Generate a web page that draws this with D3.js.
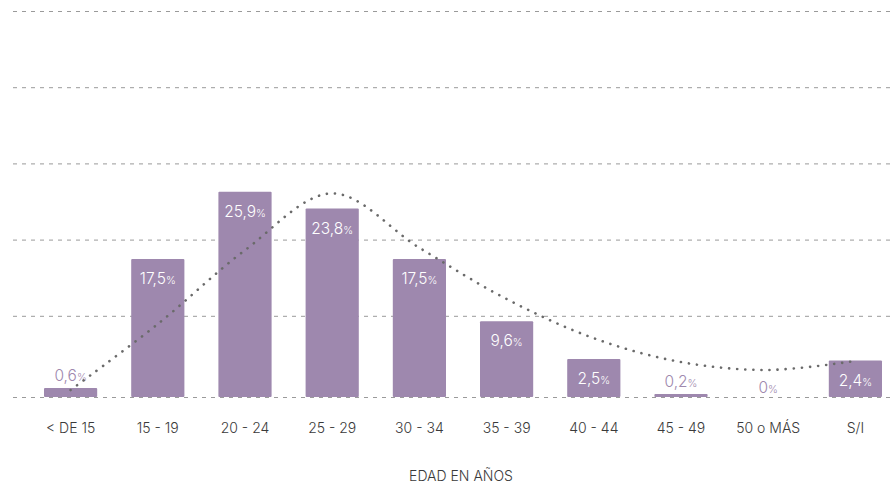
<!DOCTYPE html>
<html>
<head>
<meta charset="utf-8">
<script src="https://cdn.jsdelivr.net/npm/d3@7"></script>
<style>
  body { margin: 0; background: #fff; }
  svg { display: block; font-family: Inter, "Open Sans", sans-serif; }
</style>
</head>
<body>
<svg id="chart" width="894" height="483"></svg>
<script>
// age groups and share of cases (%)
const categories = ["< DE 15", "15 - 19", "20 - 24", "25 - 29", "30 - 34", "35 - 39", "40 - 44", "45 - 49", "50 o MÁS", "S/I"];
const values = [0.6, 17.5, 25.9, 23.8, 17.5, 9.6, 2.5, 0.2, 0, 2.4];
const labels = ["0,6", "17,5", "25,9", "23,8", "17,5", "9,6", "2,5", "0,2", "0", "2,4"];
// dotted trend curve at each group
const trend = [0.46, 9.06, 18.6, 25.7, 18.9, 12.5, 6.4, 2.3, 1.78, 2.37];
const axisTitle = "EDAD EN AÑOS";

const svg = d3.select("#chart");
const barColor = "#9e88ae";
const base = 397;

const x = d3.scaleBand().domain(categories).range([27, 899]).paddingInner(0.39).paddingOuter(0.195);
// stretched scale, small values are drawn taller in the original
const y = d3.scaleLinear().domain([0, 2.5, 10, 30]).range([base, 359, 319, 159]);

// dashed guides
const gridY = d3.range(5).map(i => 11 + i * 76.2).concat([base]);
svg.append("g").selectAll("line").data(gridY).join("line")
    .attr("x1", 13).attr("x2", 894)
    .attr("y1", d => d + 0.5).attr("y2", d => d + 0.5)
    .attr("stroke", "#9a9a9a").attr("stroke-width", 1)
    .attr("stroke-dasharray", "4,5");

svg.append("g").selectAll("rect").data(values).join("rect")
    .attr("x", (d, i) => x(categories[i]))
    .attr("width", x.bandwidth())
    .attr("y", d => y(d))
    .attr("height", d => base - y(d))
    .attr("rx", 1)
    .attr("fill", barColor);

// value labels: inside for tall bars, above for tiny ones
const vl = svg.append("g").selectAll("text").data(values).join("text")
    .attr("x", (d, i) => x(categories[i]) + x.bandwidth() / 2)
    .attr("y", d => d >= 1 ? y(d) + 25 : y(d) - (d > 0 ? 7 : 4))
    .attr("text-anchor", "middle")
    .attr("fill", d => d >= 1 ? "#fff" : barColor)
    .attr("font-weight", 300);
vl.append("tspan").attr("font-size", 15.5).text((d, i) => labels[i]);
vl.append("tspan").attr("font-size", 10.5).text("%");

const line = d3.line()
    .x((d, i) => x(categories[i]) + x.bandwidth() / 2)
    .y(d => y(d))
    .curve(d3.curveCatmullRom.alpha(0.5));
svg.append("path").datum(trend)
    .attr("d", line)
    .attr("fill", "none")
    .attr("stroke", "#6a6a6a")
    .attr("stroke-width", 2.6)
    .attr("stroke-linecap", "round")
    .attr("stroke-dasharray", "0.1,8");

const xAxis = svg.append("g").attr("transform", `translate(0,${base})`)
    .call(d3.axisBottom(x).tickSize(0).tickPadding(26));
xAxis.select(".domain").remove();
xAxis.selectAll("text")
    .attr("font-family", "Inter, sans-serif")
    .attr("font-size", 14)
    .attr("font-weight", 300)
    .attr("fill", "#3a3a3a");

svg.append("text")
    .attr("x", 461).attr("y", 481)
    .attr("text-anchor", "middle")
    .attr("font-size", 14)
    .attr("font-weight", 300)
    .attr("fill", "#3a3a3a")
    .text(axisTitle);
</script>
</body>
</html>
